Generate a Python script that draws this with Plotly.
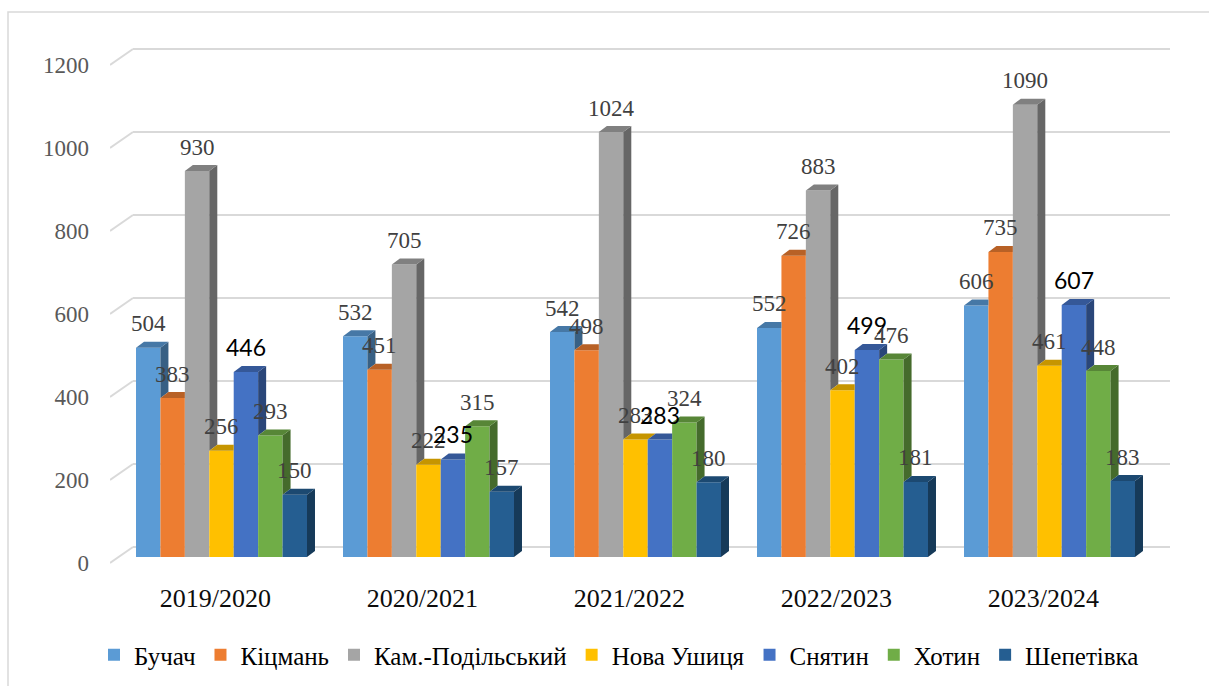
import plotly.graph_objects as go

# ---------------- data ----------------
categories = ["2019/2020", "2020/2021", "2021/2022", "2022/2023", "2023/2024"]
series_names = ["Бучач", "Кіцмань", "Кам.-Подільський", "Нова Ушиця", "Снятин", "Хотин", "Шепетівка"]
buchach = [504, 532, 542, 552, 606]
kitsman = [383, 451, 498, 726, 735]
kam_podilskyi = [930, 705, 1024, 883, 1090]
nova_ushytsia = [256, 222, 283, 402, 461]
sniatyn = [446, 235, 283, 499, 607]
khotyn = [293, 315, 324, 476, 448]
shepetivka = [150, 157, 180, 181, 183]
y_ticks = [0, 200, 400, 600, 800, 1000, 1200]

series_values = [buchach, kitsman, kam_podilskyi, nova_ushytsia, sniatyn, khotyn, shepetivka]
colors = ["#5B9BD5", "#ED7D31", "#A5A5A5", "#FFC000", "#4472C4", "#70AD47", "#255E91"]
sans_label_series = {"Снятин"}

SERIF = "Liberation Serif"
SANS = "Lato"

# ---------------- geometry (pixels) ----------------
W, H = 1209, 686
L, R, T, B = 110, 39, 40, 106
plot_w, plot_h = W - L - R, H - T - B
k_y = 0.415            # px per unit
group_px = 207.0       # px per category
x0_px = 221.5          # px of first category centre
front_base, grid_base, label_base = 557, 547, 563
bargap = 0.174
n = len(series_names)
bw = (1 - bargap) / n
dx = 8 / group_px
dy = 6 / k_y


def yrange(base):
    return [(base - (T + plot_h)) / k_y, (base - T) / k_y]


def xdata(px):
    return (px - x0_px) / group_px


def shade(hexc, f):
    h = hexc.lstrip("#")
    r, g, b = (int(h[i:i + 2], 16) for i in (0, 2, 4))
    return "#%02x%02x%02x" % (int(r * f), int(g * f), int(b * f))


x_pos = list(range(len(categories)))
fig = go.Figure()

# front faces
for name, vals, col in zip(series_names, series_values, colors):
    fig.add_trace(go.Bar(x=x_pos, y=vals, name=name, marker_color=col,
                         marker_line_width=0, hoverinfo="skip"))

# 3D side and top faces
for k, (name, vals, col) in enumerate(zip(series_names, series_values, colors)):
    sx, sy, tx, ty = [], [], [], []
    for i, v in enumerate(vals):
        xl = i + (k - n / 2) * bw
        xr = xl + bw
        nxt = series_values[k + 1][i] if k + 1 < n else 0
        if nxt < v:
            sx += [xr, xr + dx, xr + dx, xr, xr, None]
            sy += [nxt, nxt + dy, v + dy, v, nxt, None]
        right = xr + dx if nxt <= v else xr
        tx += [xl, xl + dx, right, xr, xl, None]
        ty += [v, v + dy, v + dy, v, v, None]
    fig.add_trace(go.Scatter(x=sx, y=sy, mode="lines", fill="toself", fillcolor=shade(col, 0.62),
                             line=dict(width=0), showlegend=False, hoverinfo="skip"))
    fig.add_trace(go.Scatter(x=tx, y=ty, mode="lines", fill="toself", fillcolor=shade(col, 0.78),
                             line=dict(width=0), showlegend=False, hoverinfo="skip"))

fig.add_trace(go.Scatter(x=[None], y=[None], yaxis="y2", showlegend=False, hoverinfo="skip"))
fig.add_trace(go.Scatter(x=[None], y=[None], yaxis="y3", showlegend=False, hoverinfo="skip"))

shapes = []
for v in y_ticks:
    shapes.append(dict(type="line", xref="x", yref="y2", x0=xdata(133), x1=xdata(W - R),
                       y0=v, y1=v, line=dict(color="#D9D9D9", width=2), layer="below"))
    shapes.append(dict(type="line", xref="x", yref="y2", x0=xdata(L), x1=xdata(133),
                       y0=v - 16 / k_y, y1=v, line=dict(color="#D9D9D9", width=2), layer="below"))
shapes.append(dict(type="rect", xref="paper", yref="paper",
                   x0=(8 - L) / plot_w, x1=(W + 10 - L) / plot_w,
                   y0=(T + plot_h - (H + 10)) / plot_h, y1=(T + plot_h - 12) / plot_h,
                   line=dict(color="#D9D9D9", width=1.5), fillcolor="rgba(0,0,0,0)", layer="below"))

annotations = []
for k, (name, vals) in enumerate(zip(series_names, series_values)):
    for i, v in enumerate(vals):
        xc = i + (k - (n - 1) / 2) * bw
        if name in sans_label_series:
            font = dict(family=SANS, size=23, color="#000000")
            ys = 25
        else:
            font = dict(family=SERIF, size=23, color="#404040")
            ys = 24
        annotations.append(dict(x=xc, y=v, xref="x", yref="y", text=str(v), showarrow=False,
                                yanchor="middle", xanchor="center", yshift=ys, font=font))

fig.update_layout(
    width=W, height=H,
    margin=dict(l=L, r=R, t=T, b=B, autoexpand=False),
    paper_bgcolor="white", plot_bgcolor="white",
    barmode="group", bargap=bargap, bargroupgap=0,
    shapes=shapes, annotations=annotations,
    xaxis=dict(range=[xdata(L), xdata(W - R)], tickvals=[i - 0.03 for i in x_pos], ticktext=categories,
               showgrid=False, zeroline=False, showline=False, ticks="",
               tickfont=dict(family=SERIF, size=26, color="#0D0D0D")),
    yaxis=dict(range=yrange(front_base), showgrid=False, zeroline=False, showticklabels=False, showline=False),
    yaxis2=dict(range=yrange(grid_base), overlaying="y", showgrid=False, zeroline=False,
                showticklabels=False, showline=False),
    yaxis3=dict(range=yrange(label_base), overlaying="y", side="left", showgrid=False, zeroline=False,
                showline=False, tickvals=y_ticks, ticktext=[str(t) for t in y_ticks], ticks="",
                ticklabelstandoff=20,
                tickfont=dict(family=SERIF, size=23, color="#595959")),
    legend=dict(orientation="h", x=(619 - L) / plot_w, xanchor="center",
                y=(T + plot_h - 655) / plot_h, yanchor="middle",
                font=dict(family=SERIF, size=25, color="#000000"),
                itemwidth=30, traceorder="normal"),
    showlegend=True,
)

fig.write_html("out.html", config={"displayModeBar": False},
               post_script="document.body.style.margin='0';")
